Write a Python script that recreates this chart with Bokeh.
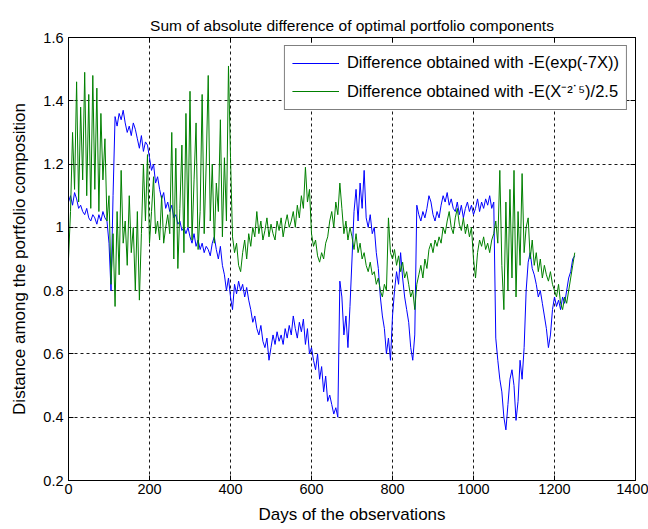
from bokeh.plotting import figure
from bokeh.models import LinearAxis, FixedTicker, Range1d, Legend, LegendItem
from bokeh.embed import file_html
from bokeh.resources import INLINE

step_days = 5
days = list(range(0, 1251, step_days))

blue_values = [
    1.08, 1.10, 1.07, 1.11, 1.09, 1.06, 1.07, 1.05, 1.04, 1.06,
    1.03, 1.02, 1.04, 1.03, 1.01, 1.04, 1.02, 1.05, 1.03, 1.02,
    0.95, 0.80, 1.10, 1.35, 1.32, 1.36, 1.34, 1.37, 1.33, 1.30,
    1.32, 1.29, 1.33, 1.31, 1.28, 1.25, 1.29, 1.24, 1.27, 1.26,
    1.22, 1.18, 1.20, 1.14, 1.16, 1.12, 1.09, 1.11, 1.06, 1.08,
    1.05, 1.07, 1.03, 1.04, 1.01, 1.02, 0.99, 1.00, 0.98, 1.00,
    0.97, 0.95, 0.98, 0.94, 0.96, 0.93, 0.95, 0.92, 0.94, 0.93,
    0.91, 0.95, 0.97, 0.93, 0.90, 0.94, 0.88, 0.85, 0.80, 0.84,
    0.78, 0.74, 0.82, 0.79, 0.83, 0.80, 0.82, 0.78, 0.81, 0.77,
    0.74, 0.70, 0.72, 0.68, 0.66, 0.69, 0.64, 0.62, 0.65, 0.58,
    0.62, 0.66, 0.63, 0.67, 0.64, 0.66, 0.63, 0.68, 0.65, 0.69,
    0.66, 0.72, 0.68, 0.65, 0.70, 0.67, 0.71, 0.63, 0.68, 0.60,
    0.62, 0.58, 0.55, 0.60, 0.52, 0.56, 0.48, 0.53, 0.45, 0.47,
    0.44, 0.41, 0.43, 0.40, 0.83, 0.78, 0.66, 0.72, 0.62, 0.75,
    0.90, 1.05, 1.12, 1.02, 1.14, 1.06, 1.18, 1.03, 1.00, 1.04,
    0.98, 1.00, 0.92, 0.87, 0.78, 0.72, 0.68, 0.60, 0.65, 0.58,
    0.72, 0.80, 0.86, 0.82, 0.92, 0.84, 0.78, 0.74, 0.70, 0.62,
    0.58, 0.66, 1.07, 1.04, 1.02, 1.05, 1.03, 1.06, 1.10, 1.08,
    1.04, 1.02, 1.05, 1.03, 1.07, 1.10, 1.08, 1.11, 1.07, 1.09,
    1.06, 1.05, 1.08, 1.04, 1.07, 1.03, 1.06, 1.08, 1.05, 1.07,
    1.04, 1.06, 1.09, 1.05, 1.08, 1.06, 1.09, 1.07, 1.10, 1.06,
    1.08, 0.65, 0.58, 0.52, 0.48, 0.40, 0.36, 0.44, 0.52, 0.55,
    0.50, 0.39, 0.45, 0.58, 0.52, 0.62, 0.80, 0.89, 0.92, 0.87,
    0.85, 0.82, 0.78, 0.80, 0.76, 0.72, 0.68, 0.62, 0.66, 0.74,
    0.78, 0.75, 0.77, 0.74, 0.78, 0.76, 0.80, 0.84, 0.86, 0.90,
    0.91,
]

green_values = [
    0.90, 1.05, 1.30, 1.12, 1.46, 1.08, 1.38, 1.15, 1.49, 1.10,
    1.42, 1.06, 1.48, 1.12, 1.44, 1.05, 1.36, 1.15, 1.28, 1.02,
    1.10, 0.82, 0.98, 0.75, 1.05, 0.85, 1.18, 0.95, 1.02, 0.88,
    1.10, 0.92, 1.00, 0.80, 1.05, 0.77, 0.98, 1.20, 1.02, 1.23,
    0.95, 1.05, 1.16, 0.98, 1.02, 0.96, 1.10, 0.95, 1.00, 1.04,
    0.98, 1.30, 0.90, 1.25, 0.87, 1.06, 1.26, 0.92, 1.36, 1.00,
    1.43, 0.96, 1.15, 1.33, 0.93, 1.05, 1.42, 0.98, 1.20, 1.48,
    1.02, 1.20, 0.95, 1.14, 1.05, 1.34, 0.97, 1.22, 1.02, 1.51,
    1.22, 0.97, 0.92, 0.95, 0.88, 0.86, 0.92, 0.96, 0.90, 0.98,
    0.94, 1.00, 0.97, 1.05, 0.98, 1.02, 0.96, 0.99, 1.03, 0.97,
    1.01, 0.98, 0.96, 1.02, 0.99, 1.03, 0.97, 1.01, 1.04, 1.00,
    1.02, 1.05, 1.00, 1.07, 1.03, 1.10, 1.06, 1.19, 1.08, 1.12,
    0.98, 0.94, 0.96, 0.91, 0.89, 0.92, 0.90, 0.95, 0.97, 1.02,
    1.05, 1.00, 1.08, 1.04, 1.14, 1.06, 0.98, 1.02, 0.96, 1.00,
    0.97, 0.93, 0.98, 0.92, 0.95, 0.90, 0.92, 0.88, 0.86, 0.89,
    0.85, 0.86, 0.82, 0.84, 0.80, 0.78, 0.82, 0.80, 1.03, 0.92,
    0.90, 0.93, 0.88, 0.91, 0.86, 0.89, 0.84, 0.86, 0.82, 0.78,
    0.80, 0.74, 0.82, 0.85, 0.88, 0.84, 0.90, 0.87, 0.93, 0.95,
    0.92, 0.96, 0.94, 0.97, 0.95, 1.00, 0.98, 1.02, 1.05, 1.00,
    0.98, 1.03, 1.06, 1.01, 0.99, 1.03, 0.98, 1.01, 0.97, 1.00,
    0.90, 0.84, 0.92, 0.96, 0.94, 0.97, 0.93, 0.95, 0.92, 0.96,
    0.98, 1.02, 0.95, 1.18, 0.88, 0.74, 1.08, 0.80, 1.12, 0.84,
    1.18, 0.78, 1.05, 0.88, 1.17, 0.92, 1.00, 1.03, 0.90, 0.96,
    0.88, 0.92, 0.86, 0.90, 0.84, 0.88, 0.85, 0.83, 0.86, 0.82,
    0.80, 0.78, 0.82, 0.76, 0.74, 0.78, 0.76, 0.80, 0.84, 0.88,
    0.92,
]

x_ticks = [0, 200, 400, 600, 800, 1000, 1200, 1400]
y_ticks = [0.2, 0.4, 0.6, 0.8, 1.0, 1.2, 1.4, 1.6]
y_tick_labels = ["0.2", "0.4", "0.6", "0.8", "1", "1.2", "1.4", "1.6"]

title_text = "Sum of absolute difference of optimal portfolio components"
x_label = "Days of the observations"
y_label = "Distance among the portfolio composition"
label_blue = "Difference obtained with -E(exp(-7X))"
label_green = "Difference obtained with -E(X\u207b\u00b2\u02d9\u2075)/2.5"

FONT = "Liberation Sans"

p = figure(width=648, height=529, output_backend="svg", toolbar_location=None,
           x_range=Range1d(0, 1400), y_range=Range1d(0.2, 1.6),
           min_border_left=68, min_border_right=13, min_border_top=37,
           min_border_bottom=49, background_fill_color="white",
           border_fill_color="white")

p.title.text = title_text
p.title.align = "center"
p.title.text_font = FONT
p.title.text_font_size = "15.5px"
p.title.text_font_style = "normal"
p.title.text_color = "black"
p.title.offset = 0
p.title.standoff = 8

p.outline_line_color = "black"
p.outline_line_width = 1
p.outline_line_alpha = 1

bl = p.line(days, blue_values, line_color="#0000ff", line_width=1)
gl = p.line(days, green_values, line_color="#008000", line_width=1)

for ax in (p.xaxis[0], p.yaxis[0]):
    ax.major_tick_in = 5
    ax.major_tick_out = 0
    ax.minor_tick_in = 0
    ax.minor_tick_out = 0
    ax.axis_line_color = "black"
    ax.major_tick_line_color = "black"
    ax.major_label_text_font = FONT
    ax.major_label_text_font_size = "14.5px"
    ax.major_label_text_color = "black"
    ax.axis_label_text_font = FONT
    ax.axis_label_text_font_size = "17px"
    ax.axis_label_text_font_style = "normal"
    ax.axis_label_text_color = "black"

p.xaxis[0].ticker = FixedTicker(ticks=x_ticks)
p.yaxis[0].ticker = FixedTicker(ticks=y_ticks)
p.yaxis[0].major_label_overrides = {t: s for t, s in zip(y_ticks, y_tick_labels)}
p.xaxis[0].axis_label = x_label
p.yaxis[0].axis_label = y_label
p.xaxis[0].major_label_standoff = 3
p.xaxis[0].axis_label_standoff = 8
p.yaxis[0].major_label_standoff = 5
p.yaxis[0].axis_label_standoff = 11

top_axis = LinearAxis(ticker=FixedTicker(ticks=x_ticks),
                      major_label_overrides={t: "" for t in x_ticks},
                      major_tick_in=5, major_tick_out=0, minor_tick_in=0, minor_tick_out=0,
                      major_label_standoff=0, axis_line_color="black")
right_axis = LinearAxis(ticker=FixedTicker(ticks=y_ticks),
                        major_label_overrides={t: "" for t in y_ticks},
                        major_tick_in=5, major_tick_out=0, minor_tick_in=0, minor_tick_out=0,
                        major_label_standoff=0, axis_line_color="black")
p.add_layout(top_axis, "above")
p.add_layout(right_axis, "right")

p.xgrid.ticker = FixedTicker(ticks=x_ticks)
p.ygrid.ticker = FixedTicker(ticks=y_ticks)
for g in (p.xgrid[0], p.ygrid[0]):
    g.grid_line_color = "black"
    g.grid_line_dash = "3 3"
    g.grid_line_width = 1
    g.grid_line_alpha = 0.9

legend = Legend(items=[LegendItem(label=label_blue, renderers=[bl]),
                       LegendItem(label=label_green, renderers=[gl])],
                location="top_right")
legend.label_text_font = FONT
legend.label_text_font_size = "16.5px"
legend.label_text_color = "black"
legend.label_height = 18
legend.glyph_width = 47
legend.glyph_height = 18
legend.label_standoff = 8
legend.spacing = 7
legend.padding = 7
legend.margin = 8
legend.border_line_color = "black"
legend.border_line_width = 1
legend.background_fill_color = "white"
legend.background_fill_alpha = 1
p.add_layout(legend, "center")

open("out.html", "w").write(file_html(p, INLINE))
